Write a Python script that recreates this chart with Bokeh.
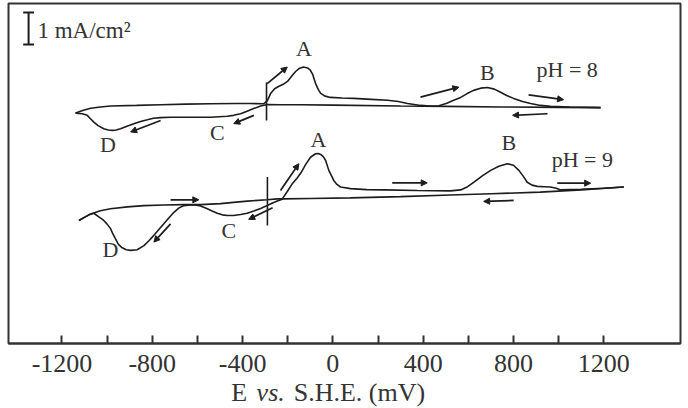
from bokeh.plotting import figure
from bokeh.layouts import column
from bokeh.models import Range1d, FixedTicker, Label, Arrow, NormalHead
from bokeh.embed import file_html
from bokeh.resources import INLINE

# Potential axis ticks (mV vs. S.H.E.)
major_ticks = [-1200, -800, -400, 0, 400, 800, 1200]
minor_ticks = [-1000, -600, -200, 200, 600, 1000]
tick_labels = ["-1200", "-800", "-400", "0", "400", "800", "1200"]

# pH 8 voltammogram, anodic sweep: potential (mV) and current density (mA/cm2)
ph8_anodic_E = [-1140, -1105, -1073, -1030, -985, -870, -763, -650, -542, -430, -365, -307,
                -290, -276, -258, -241, -220, -201, -182, -165, -150, -130, -112, -100, -90,
                -77, -65, -54, -35, -10, 40, 92, 170, 242, 290, 331, 389, 430, 470, 505, 535,
                566, 595, 623, 655, 685, 715, 743, 770, 801, 840, 876, 920, 964, 1050, 1186]
ph8_anodic_j = [-0.24, -0.15, -0.09, -0.05, -0.02, 0.00, 0.02, 0.04, 0.05, 0.06, 0.06, 0.05,
                0.15, 0.37, 0.52, 0.59, 0.66, 0.75, 0.92, 1.06, 1.15, 1.20, 1.17, 1.10, 0.98,
                0.69, 0.50, 0.375, 0.29, 0.25, 0.23, 0.22, 0.19, 0.16, 0.12, 0.06, 0.00, -0.02,
                -0.01, 0.07, 0.16, 0.25, 0.37, 0.47, 0.54, 0.56, 0.51, 0.41, 0.31, 0.22, 0.12,
                0.06, 0.00, -0.03, -0.05, -0.07]

# pH 8 voltammogram, cathodic sweep
ph8_cathodic_E = [1186, 1000, 743, 500, 300, 0, -143, -232, -290, -320, -351, -380, -409,
                  -440, -468, -542, -645, -720, -763, -795, -822, -852, -882, -912, -941,
                  -960, -977, -995, -1015, -1040, -1059, -1075, -1088, -1110, -1140]
ph8_cathodic_j = [-0.07, -0.06, -0.05, -0.03, -0.02, 0.01, 0.02, 0.02, 0.03, -0.02, -0.10,
                  -0.18, -0.26, -0.31, -0.34, -0.37, -0.37, -0.37, -0.38, -0.40, -0.45, -0.50,
                  -0.57, -0.65, -0.73, -0.77, -0.78, -0.77, -0.73, -0.63, -0.52, -0.41, -0.31,
                  -0.26, -0.24]

# pH 9 voltammogram, anodic sweep
ph9_anodic_E = [-1125, -1100, -1073, -1030, -985, -910, -837, -750, -660, -586, -498, -440,
                -379, -291, -246, -224, -202, -180, -158, -140, -121, -99, -77, -65, -54, -42,
                -32, -18, 4, 18, 34, 78, 150, 226, 374, 521, 566, 597, 625, 662, 699, 735,
                773, 800, 824, 843, 861, 882, 906, 935, 964, 990, 1009, 1100, 1200, 1289]
ph9_anodic_j = [-0.625, -0.52, -0.42, -0.32, -0.26, -0.20, -0.16, -0.14, -0.13, -0.13, -0.10,
                -0.06, -0.02, 0.02, 0.05, 0.05, 0.28, 0.52, 0.70, 0.88, 1.12, 1.35, 1.46,
                1.47, 1.44, 1.36, 1.25, 0.94, 0.625, 0.50, 0.42, 0.37, 0.34, 0.33, 0.31, 0.30,
                0.33, 0.43, 0.57, 0.77, 0.94, 1.07, 1.15, 1.10, 0.94, 0.76, 0.57, 0.48, 0.44,
                0.43, 0.42, 0.38, 0.33, 0.35, 0.38, 0.42]

# pH 9 voltammogram, cathodic sweep
ph9_cathodic_E = [1289, 1100, 918, 700, 521, 300, 78, -100, -218, -246, -270, -291, -320,
                  -350, -380, -409, -440, -468, -490, -512, -535, -556, -586, -610, -630,
                  -660, -683, -704, -727, -749, -771, -793, -815, -837, -867, -896, -915,
                  -933, -950, -963, -975, -985, -1000, -1015, -1040, -1059, -1080, -1100, -1125]
ph9_cathodic_j = [0.42, 0.33, 0.26, 0.21, 0.17, 0.12, 0.08, 0.06, 0.05, -0.02, -0.09, -0.16,
                  -0.25, -0.33, -0.40, -0.44, -0.47, -0.47, -0.45, -0.40, -0.33, -0.26, -0.17,
                  -0.14, -0.14, -0.16, -0.24, -0.37, -0.55, -0.73, -0.91, -1.09, -1.26, -1.41,
                  -1.54, -1.56, -1.54, -1.48, -1.37, -1.20, -1.04, -0.88, -0.74, -0.625, -0.50,
                  -0.40, -0.45, -0.53, -0.625]

# Peak labels: (text, E, j) for each voltammogram
ph8_labels = [("A", -128, 1.78), ("B", 684, 1.03), ("C", -512, -0.86), ("D", -996, -1.22),
              ("pH = 8", 1038, 1.12)]
ph9_labels = [("A", -64, 1.92), ("B", 780, 1.81), ("C", -461, -0.95), ("D", -985, -1.54),
              ("pH = 9", 1105, 1.29)]

# Sweep direction arrows: (E_start, j_start, E_end, j_end)
ph8_arrows = [(-291, 0.68, -202, 1.20), (388, 0.26, 558, 0.57), (867, 0.33, 1022, 0.18),
              (951, -0.26, 796, -0.31), (-350, -0.31, -439, -0.57), (-763, -0.47, -896, -0.83)]
ph9_arrows = [(-719, 0.02, -594, 0.02), (-719, -0.73, -793, -1.30), (-267, -0.23, -373, -0.59),
              (-232, 0.31, -151, 1.15), (263, 0.55, 418, 0.55), (801, 0.00, 668, -0.03),
              (994, 0.54, 1142, 0.54)]

# Rest-potential marks: (E, j_low, j_high)
ph8_mark = (-294, -0.47, 0.72)
ph9_mark = (-290, -0.78, 0.73)

# Vertical display shift of each voltammogram (mA/cm2)
PH8_SHIFT = 7.44
PH9_SHIFT = 4.47

# Axis title pieces: (text, left edge in px, font style)
title_parts = [("E", 228, "normal"), ("vs.", 254, "italic"), ("S.H.E. (mV)", 292, "normal")]

INK = "#1c1c1c"
TEXT = "#333333"
FONT = "Liberation Serif"

MAIN_H = 384          # main chart height (frame bottom at 343 px)
TITLE_OVERLAP = 8     # title strip slides up over the empty bottom of the chart
TITLE_H = 408 - MAIN_H + TITLE_OVERLAP

p = figure(width=688, height=MAIN_H, output_backend="svg", toolbar_location=None,
           x_range=Range1d(-1437, 1540), y_range=Range1d(0, 10.625),
           y_axis_location=None, min_border_left=8, min_border_right=8,
           min_border_top=3, min_border_bottom=MAIN_H - 343)
p.grid.visible = False
p.outline_line_color = "#333333"
p.outline_line_width = 2
p.border_fill_color = "white"
p.background_fill_color = "white"

ax = p.xaxis[0]
ax.ticker = FixedTicker(ticks=major_ticks, minor_ticks=minor_ticks)
ax.major_label_overrides = dict(zip(major_ticks, tick_labels))
ax.major_tick_in = 8
ax.major_tick_out = 0
ax.minor_tick_in = 8
ax.minor_tick_out = 0
ax.major_tick_line_width = 2
ax.minor_tick_line_width = 2
ax.major_tick_line_color = "#333333"
ax.minor_tick_line_color = "#333333"
ax.axis_line_width = 2
ax.axis_line_color = "#333333"
ax.major_label_text_font = FONT
ax.major_label_text_font_size = "26px"
ax.major_label_text_color = TEXT
ax.major_label_standoff = 11


def draw_cv(aE, aj, cE, cj, shift, labels, arrows, mark):
    p.line(aE, [v + shift for v in aj], line_color=INK, line_width=1.6)
    p.line(cE, [v + shift for v in cj], line_color=INK, line_width=1.6)
    mE, mlo, mhi = mark
    p.segment(x0=[mE], y0=[mlo + shift], x1=[mE], y1=[mhi + shift],
              line_color=INK, line_width=1.6)
    for text, e, j in labels:
        p.add_layout(Label(x=e, y=j + shift, text=text, text_font=FONT,
                           text_font_size="22px", text_color=TEXT,
                           text_align="center", text_baseline="alphabetic"))
    for e0, j0, e1, j1 in arrows:
        p.add_layout(Arrow(x_start=e0, y_start=j0 + shift, x_end=e1, y_end=j1 + shift,
                           line_color=INK, line_width=1.7,
                           end=NormalHead(size=6, line_color=INK, fill_color=INK,
                                          line_width=1)))


draw_cv(ph8_anodic_E, ph8_anodic_j, ph8_cathodic_E, ph8_cathodic_j, PH8_SHIFT,
        ph8_labels, ph8_arrows, ph8_mark)
draw_cv(ph9_anodic_E, ph9_anodic_j, ph9_cathodic_E, ph9_cathodic_j, PH9_SHIFT,
        ph9_labels, ph9_arrows, ph9_mark)

# 1 mA/cm2 scale bar
BAR_E, BAR_BOTTOM, BAR_CAP = -1348, 9.34, 24
p.segment(x0=[BAR_E, BAR_E - BAR_CAP, BAR_E - BAR_CAP],
          y0=[BAR_BOTTOM, BAR_BOTTOM, BAR_BOTTOM + 1.0],
          x1=[BAR_E, BAR_E + BAR_CAP, BAR_E + BAR_CAP],
          y1=[BAR_BOTTOM + 1.0, BAR_BOTTOM, BAR_BOTTOM + 1.0],
          line_color=INK, line_width=2)
p.add_layout(Label(x=-1309, y=9.78, text="1 mA/cm²", text_font=FONT,
                   text_font_size="23px", text_color=TEXT,
                   text_baseline="alphabetic"))

# Transparent strip underneath holding the axis title (mixed upright / italic text)
t = figure(width=688, height=TITLE_H, output_backend="svg", toolbar_location=None,
           x_range=Range1d(0, 688), y_range=Range1d(0, TITLE_H),
           x_axis_location=None, y_axis_location=None,
           min_border=0, min_border_left=0, min_border_right=0,
           min_border_top=0, min_border_bottom=0)
t.margin = (-TITLE_OVERLAP, 0, 0, 0)
t.grid.visible = False
t.outline_line_color = None
t.border_fill_color = None
t.background_fill_color = None
for txt, left, style in title_parts:
    t.add_layout(Label(x=left, y=TITLE_H - 8 - TITLE_OVERLAP, text=txt, text_font=FONT,
                       text_font_size="26px", text_font_style=style,
                       text_color=TEXT, text_baseline="alphabetic"))

layout = column(p, t, spacing=0)
open("out.html", "w").write(file_html(layout, INLINE))
